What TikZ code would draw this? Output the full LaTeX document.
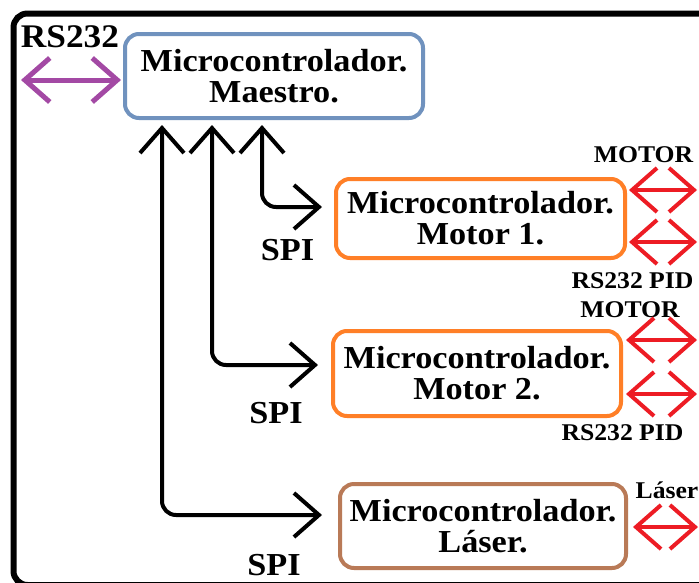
\documentclass[tikz,border=0pt]{standalone}
\usepackage{fontspec}
\setmainfont{Liberation Serif}[FakeStretch=1.07]
\usetikzlibrary{arrows.meta}
\definecolor{mblue}{RGB}{112,146,190}
\definecolor{morange}{RGB}{255,127,39}
\definecolor{mbrown}{RGB}{185,122,87}
\definecolor{mred}{RGB}{237,28,36}
\definecolor{mpurple}{RGB}{163,73,164}
\begin{document}
\begin{tikzpicture}[x=1pt,y=-1pt,
  box/.style={draw, line width=4pt, rounded corners=14pt, align=center, inner sep=0pt,
    font=\bfseries\fontsize{32}{31}\selectfont},
  lbl/.style={font=\bfseries\fontsize{24}{24}\selectfont, inner sep=0pt, anchor=base},
  spilbl/.style={font=\bfseries\fontsize{32}{32}\selectfont, inner sep=0pt, anchor=base},
  barb/.style={{Straight Barb[length=25pt,width=44pt]}-{Straight Barb[length=25pt,width=44pt]}},
  conn/.style={line width=4pt, barb, rounded corners=14pt},
  redarr/.style={line width=4pt, mred, barb},
  purparr/.style={line width=5pt, mpurple, barb}]
\useasboundingbox (0,0) rectangle (699,582);
\clip (0,0) rectangle (699,582);
\fill[white] (0,0) rectangle (699,582);
% outer frame
\draw[line width=6pt, rounded corners=14pt] (13.5,13.5) rectangle (720,585);
% boxes
\node[box, draw=mblue, minimum width=298pt, minimum height=84pt] (master) at (274,76)
  {Microcontrolador.\\Maestro.};
\node[box, draw=morange, minimum width=289pt, minimum height=79pt] (m1) at (480.5,218.5)
  {Microcontrolador.\\Motor 1.};
\node[box, draw=morange, minimum width=288pt, minimum height=85pt] (m2) at (477,373.5)
  {Microcontrolador.\\Motor 2.};
\node[box, draw=mbrown, minimum width=286pt, minimum height=84pt] (las) at (483,526)
  {Microcontrolador.\\Láser.};
% labels
\node[lbl, font=\bfseries\fontsize{33}{33}\selectfont] (rs) at (70,47) {RS232};
\node[lbl] (mot1) at (643.5,162) {MOTOR};
\node[lbl] (pid1) at (632.5,288) {RS232 PID};
\node[lbl] (mot2) at (630,317) {MOTOR};
\node[lbl] (pid2) at (622.5,440) {RS232 PID};
\node[lbl] (laslbl) at (667,498) {Láser};
\node[spilbl] (spi1) at (287.5,260) {SPI};
\node[spilbl] (spi2) at (276,423) {SPI};
\node[spilbl] (spi3) at (274,575) {SPI};
% coordinates
\coordinate (rsL) at (21,80);
\coordinate (rsR) at (121,80);
\coordinate (t1) at (162,125);
\coordinate (t2) at (212,125);
\coordinate (t3) at (262,125);
\coordinate (m1in) at (322,207);
\coordinate (m2in) at (318,365);
\coordinate (lasin) at (322,515);
\coordinate (m1a) at (629,190); \coordinate (m1ae) at (697,190);
\coordinate (m1b) at (629,242); \coordinate (m1be) at (697,242);
\coordinate (m2a) at (626,340); \coordinate (m2ae) at (697,340);
\coordinate (m2b) at (626,394); \coordinate (m2be) at (697,394);
\coordinate (la) at (633,527); \coordinate (lae) at (698,527);
% connectors
\draw[purparr] (rsL) -- (rsR);
\draw[conn] (t3) |- (m1in);
\draw[conn] (t2) |- (m2in);
\draw[conn] (t1) |- (lasin);
\draw[redarr] (m1a) -- (m1ae);
\draw[redarr] (m1b) -- (m1be);
\draw[redarr] (m2a) -- (m2ae);
\draw[redarr] (m2b) -- (m2be);
\draw[redarr] (la) -- (lae);
\end{tikzpicture}
\end{document}
